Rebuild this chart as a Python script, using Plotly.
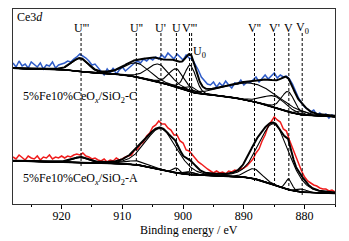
import numpy as np
import plotly.graph_objects as go

# ---------------- data ----------------
# measured spectra, sampled every 0.5 eV from 928 eV down to 875 eV (intensity, arbitrary units)
data_energy = np.linspace(928, 875, 107)
sample_c_counts = [
    141, 137, 143, 138, 140, 136, 142, 139, 137, 141, 135, 139, 138, 142, 136, 139, 140,
    141, 143, 142, 145,
    147, 150, 148, 146,
    143, 139, 140, 136,
    133, 129, 135, 131, 136, 130, 134, 137, 133, 136,
    139, 141, 143, 141, 145, 143, 146, 144,
    147, 145, 149, 146, 151, 148, 145, 150, 147, 144, 149, 146,
    145, 140, 134, 127, 124, 120,
    119, 122, 117, 121, 118, 123, 119, 116, 121, 120, 124, 119, 122, 121,
    124, 127, 122, 126, 129, 125, 128, 131, 126, 129, 127, 128,
    125, 120, 113, 106, 101, 97,
    95, 92, 94, 89, 91, 88, 90, 86, 89, 87,
]
sample_a_counts = [
    47, 45, 49, 46, 44, 48, 46, 45, 48, 44, 47, 46, 49, 45, 47, 46, 48,
    46, 48, 47, 49,
    50, 49, 51, 48,
    47, 45, 46, 44,
    43, 45, 42, 44, 43, 46, 44, 45, 47, 48,
    49, 54, 55, 60, 62, 68, 71, 77,
    79, 83, 80, 80, 76, 74, 69, 69, 63, 61, 54, 53,
    49, 46, 42, 40, 37, 35,
    33, 31, 33, 31, 32, 30, 33, 32, 34, 33, 35, 36, 38, 41,
    45, 51, 55, 63, 69, 78, 82, 87, 84, 82, 75, 73,
    64, 56, 47, 40, 33, 27,
    23, 21, 19, 18, 16, 15, 15, 13, 14, 12,
]

# fitted components: U''', U'', U', U, U0, V''', V'', V', V, V0
peak_names = ["U'''", "U''", "U'", "U", "U0", "V'''", "V''", "V'", "V", "V0"]
c_centers = [916.9, 907.6, 904.0, 901.1, 898.8, 898.5, 888.3, 885.0, 882.7, 880.4]
c_heights = [13, 14, 18, 18, 26, 5, 18, 11, 20, 4]
c_fwhm = [3.2, 5.0, 4.2, 3.0, 2.2, 2.0, 10.0, 4.5, 2.5, 2.0]
c_background = [87.3, 135.7]   # low-BE end, high-BE end
c_slope = 0.15

a_centers = [916.8, 907.6, 903.6, 901.1, 898.8, 898.5, 888.3, 885.0, 882.6, 880.4]
a_heights = [5, 4, 41, 5, 3, 3, 10, 61, 11, 3]
a_fwhm = [3.0, 4.0, 6.0, 1.2, 2.0, 2.0, 3.0, 5.8, 1.2, 2.0]
a_background = [10.5, 43.0]
a_slope = 0.1

# reference (dashed) lines
line_labels = ["U'''", "U''", "U'", "U", "V'''", "", "V''", "V'", "V", "V<sub>0</sub>"]
line_energies = [916.8, 907.7, 903.65, 901.1, 898.95, 898.6, 888.25, 884.95, 882.6, 880.4]
line_bottoms = [37, 39, 29, 27, 27, 27, 21, 17, 11, 9]
line_top = 171

x_ticks = [920, 910, 900, 890, 880]

# ---------------- drawing ----------------
model_energy = np.linspace(875, 928, 531)


def pv(e, c, h, w, m=0.2):
    d = 4 * (e - c) ** 2 / w ** 2
    return h * ((1 - m) * np.exp(-np.log(2) * d) + m / (1 + d))


def fit(centers, heights, fwhm, bg, slope):
    peaks = [pv(model_energy, c, h, w) for c, h, w in zip(centers, heights, fwhm)]
    total = np.sum(peaks, axis=0)
    cum = np.concatenate([[0], np.cumsum((total[1:] + total[:-1]) / 2)])
    step = bg[1] - bg[0] - slope * (928 - 875)
    base = bg[0] + slope * (model_energy - 875) + step * cum / cum[-1]
    return base, peaks, base + total


fig = go.Figure()

for counts, color in [(sample_c_counts, "#2f5cc8"), (sample_a_counts, "#f01c1c")]:
    fig.add_trace(go.Scatter(x=data_energy, y=counts, mode="lines",
                             line=dict(color=color, width=1.5), hoverinfo="skip"))

for cen, hei, fw, bg, sl in [(c_centers, c_heights, c_fwhm, c_background, c_slope),
                             (a_centers, a_heights, a_fwhm, a_background, a_slope)]:
    base, peaks, env = fit(cen, hei, fw, bg, sl)
    for p in peaks:
        fig.add_trace(go.Scatter(x=model_energy, y=base + p, mode="lines",
                                 line=dict(color="black", width=1.1), hoverinfo="skip"))
    fig.add_trace(go.Scatter(x=model_energy, y=base, mode="lines",
                             line=dict(color="black", width=1.6), hoverinfo="skip"))
    fig.add_trace(go.Scatter(x=model_energy, y=env, mode="lines",
                             line=dict(color="black", width=2), hoverinfo="skip"))

for e, b in zip(line_energies, line_bottoms):
    fig.add_trace(go.Scatter(x=[e, e], y=[line_top, b], mode="lines",
                             line=dict(color="black", width=1, dash="3px,2px"), hoverinfo="skip"))

annotations = []
for lab, e in zip(line_labels, line_energies):
    if lab:
        annotations.append(dict(x=e, y=176, xref="x", yref="y", text=lab, showarrow=False,
                                xanchor="center", yanchor="middle"))
annotations += [
    dict(x=897.3, y=152, xref="x", yref="y", text="U<sub>0</sub>", showarrow=False),
    dict(x=0.006, y=0.96, xref="paper", yref="paper", text="Ce3<i>d</i>", showarrow=False,
         xanchor="left", yanchor="middle"),
    dict(x=0.025, y=0.549, xref="paper", yref="paper",
         text="5%Fe10%CeO<sub><i>x</i></sub>/SiO<sub>2</sub>-C", showarrow=False,
         xanchor="left", yanchor="middle"),
    dict(x=0.025, y=0.128, xref="paper", yref="paper",
         text="5%Fe10%CeO<sub><i>x</i></sub>/SiO<sub>2</sub>-A", showarrow=False,
         xanchor="left", yanchor="middle"),
    dict(x=0.547, y=-0.135, xref="paper", yref="paper", text="Binding energy / eV",
         showarrow=False, xanchor="center", yanchor="middle"),
]

fig.update_layout(
    width=349, height=241, autosize=False,
    margin=dict(l=13, r=14, t=9, b=37),
    paper_bgcolor="white", plot_bgcolor="white",
    showlegend=False,
    font=dict(family="Liberation Serif", size=12, color="black"),
    annotations=annotations,
    xaxis=dict(range=[928, 875], tickvals=x_ticks, ticks="outside", ticklen=4,
               tickcolor="black", showline=True, linecolor="#333", linewidth=1,
               mirror=True, showgrid=False, zeroline=False, ticklabelstandoff=-3,
               minor=dict(dtick=5, tick0=875, ticks="outside", ticklen=2, tickcolor="black")),
    yaxis=dict(range=[0, 195], showticklabels=False, ticks="", showline=True,
               linecolor="#333", linewidth=1, mirror=True, showgrid=False, zeroline=False),
)

fig.write_html("out.html", config={"displayModeBar": False},
               post_script="document.body.style.margin='0px';document.body.style.overflow='hidden';")
